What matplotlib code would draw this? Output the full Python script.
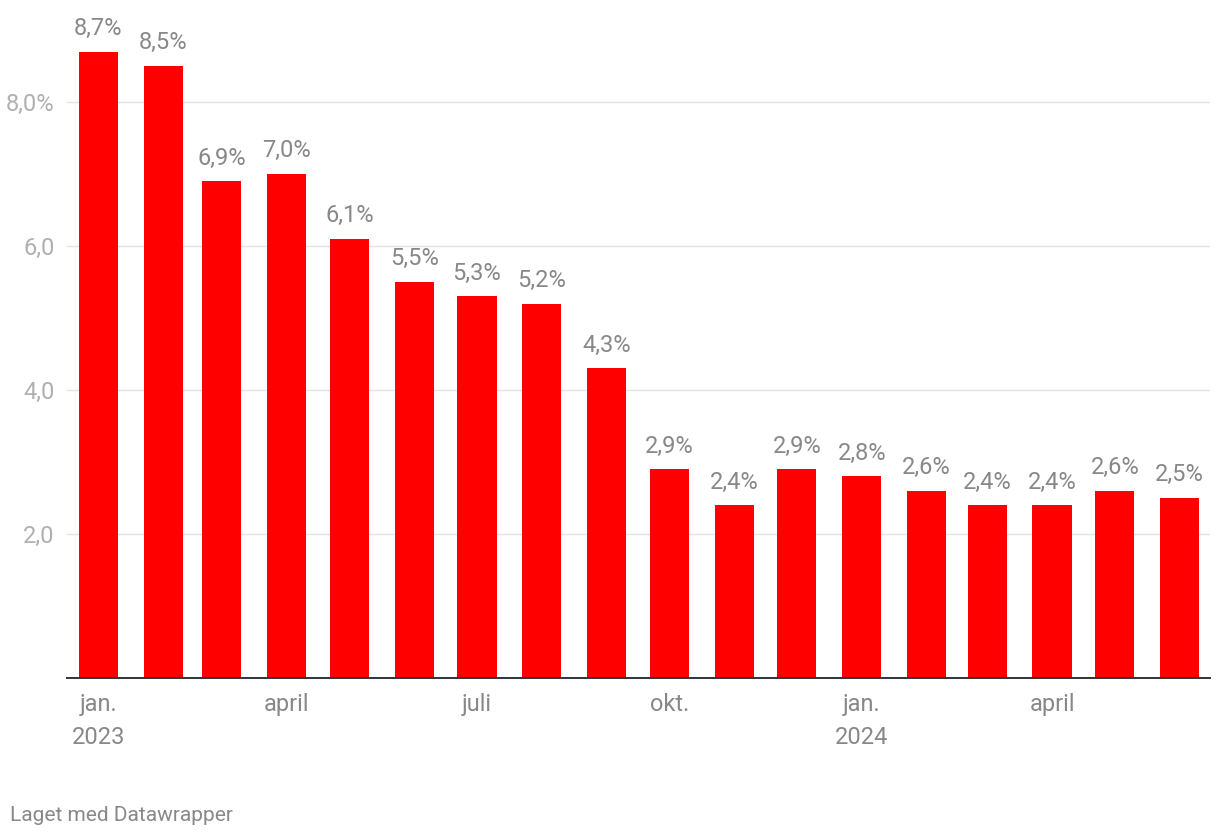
import datetime as dt
import matplotlib
matplotlib.use("Agg")
import matplotlib.pyplot as plt
import matplotlib.dates as mdates
from matplotlib import font_manager

# monthly values, jan. 2023 - juni 2024
months = [dt.date(2023, m, 1) for m in range(1, 13)] + [dt.date(2024, m, 1) for m in range(1, 7)]
values = [8.7, 8.5, 6.9, 7.0, 6.1, 5.5, 5.3, 5.2, 4.3, 2.9, 2.4, 2.9, 2.8, 2.6, 2.4, 2.4, 2.6, 2.5]
value_labels = ["8,7%", "8,5%", "6,9%", "7,0%", "6,1%", "5,5%", "5,3%", "5,2%", "4,3%",
                "2,9%", "2,4%", "2,9%", "2,8%", "2,6%", "2,4%", "2,4%", "2,6%", "2,5%"]

tick_months = [dt.date(2023, 1, 1), dt.date(2023, 4, 1), dt.date(2023, 7, 1),
               dt.date(2023, 10, 1), dt.date(2024, 1, 1), dt.date(2024, 4, 1)]
tick_labels = ["jan.\n2023", "april", "juli", "okt.", "jan.\n2024", "april"]

y_ticks = [2, 4, 6, 8]
y_labels = ["2,0", "4,0", "6,0", "8,0%"]

names = {f.name for f in font_manager.fontManager.ttflist}
font = "Liberation Sans Narrow" if "Liberation Sans Narrow" in names else "Roboto"
plt.rcParams["font.family"] = [font, "DejaVu Sans"]

bar_w = 18.7  # days
fig = plt.figure(figsize=(12.2, 8.38), dpi=100)
ax = fig.add_axes([67 / 1220, 160 / 838, (1210 - 67) / 1220, 648 / 838])

x = mdates.date2num(months)
ax.bar(x, values, width=bar_w, align="edge", color="#ff0000", zorder=2)

for xi, v, lab in zip(x, values, value_labels):
    ax.annotate(lab, (xi + bar_w / 2, v), xytext=(0, 12), textcoords="offset points",
                ha="center", va="baseline", fontsize=17, color="#888888")

ax.set_xlim(x[0] - 5.7, x[-1] + 23.9)
ax.set_ylim(0, 9.0)

ax.set_xticks(mdates.date2num(tick_months) + bar_w / 2)
ax.set_xticklabels(tick_labels, fontsize=17, color="#888888", linespacing=1.55)
ax.tick_params(axis="x", length=0, pad=11)

ax.set_yticks(y_ticks)
ax.set_yticklabels(y_labels, fontsize=17, color="#b0b0b0")
ax.tick_params(axis="y", length=0, pad=9)

ax.grid(axis="y", color="#e3e3e3", lw=1, zorder=0)
for s in ["top", "right", "left"]:
    ax.spines[s].set_visible(False)
ax.spines["bottom"].set_color("#333333")
ax.spines["bottom"].set_linewidth(1.4)
ax.spines["bottom"].set_zorder(3)

fig.text(10 / 1220, 1 - 815 / 838, "Laget med Datawrapper", fontsize=15,
         color="#888888", ha="left", va="center")

fig.savefig("out.png", dpi=100)
